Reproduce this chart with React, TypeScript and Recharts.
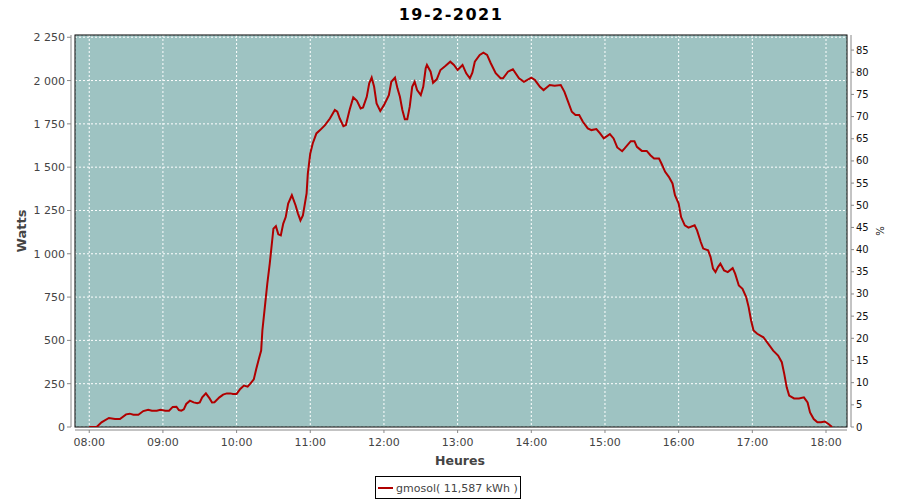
import React from "react";
import { LineChart, Line, XAxis, YAxis, CartesianGrid, Customized } from "recharts";

const TITLE = "19-2-2021";
const SERIES_NAME = "gmosol( 11,587 kWh )";
const X_LABEL = "Heures";
const Y_LABEL = "Watts";
const Y2_LABEL = "%";

// readings (HH:MM) and power in W
const TIMES = [
  "08:00", "08:06", "08:10", "08:16", "08:21", "08:25", "08:30", "08:33", "08:36", "08:40",
  "08:44", "08:48", "08:51", "08:55", "08:58", "09:02", "09:05", "09:08", "09:11", "09:13",
  "09:15", "09:17", "09:19", "09:22", "09:25", "09:28", "09:30", "09:32", "09:35", "09:38",
  "09:40", "09:42", "09:46", "09:49", "09:52", "09:55", "09:57", "10:00", "10:03", "10:06",
  "10:09", "10:11", "10:14", "10:16", "10:18", "10:20", "10:21", "10:23", "10:25", "10:27",
  "10:29", "10:30", "10:32", "10:34", "10:36", "10:38", "10:40", "10:42", "10:45", "10:48",
  "10:50", "10:52", "10:54", "10:57", "10:58", "11:00", "11:02", "11:05", "11:08", "11:12",
  "11:16", "11:20", "11:22", "11:24", "11:27", "11:29", "11:32", "11:35", "11:38", "11:41",
  "11:43", "11:46", "11:48", "11:50", "11:52", "11:54", "11:57", "12:00", "12:04", "12:06",
  "12:09", "12:11", "12:13", "12:15", "12:17", "12:19", "12:21", "12:23", "12:25", "12:27",
  "12:30", "12:32", "12:34", "12:35", "12:38", "12:40", "12:43", "12:46", "12:50", "12:54",
  "12:57", "13:00", "13:04", "13:07", "13:10", "13:12", "13:14", "13:18", "13:21", "13:24",
  "13:27", "13:31", "13:35", "13:37", "13:41", "13:45", "13:50", "13:54", "14:00", "14:03",
  "14:07", "14:10", "14:15", "14:19", "14:24", "14:27", "14:30", "14:33", "14:36", "14:39",
  "14:42", "14:46", "14:49", "14:53", "14:56", "14:59", "15:04", "15:07", "15:10", "15:14",
  "15:16", "15:21", "15:24", "15:26", "15:30", "15:34", "15:37", "15:40", "15:44", "15:46",
  "15:49", "15:52", "15:55", "15:57", "16:00", "16:02", "16:05", "16:08", "16:13", "16:15",
  "16:18", "16:20", "16:24", "16:26", "16:28", "16:30", "16:32", "16:34", "16:37", "16:40",
  "16:44", "16:46", "16:49", "16:52", "16:55", "16:57", "16:59", "17:01", "17:04", "17:09",
  "17:13", "17:17", "17:21", "17:24", "17:26", "17:28", "17:30", "17:34", "17:38", "17:42",
  "17:45", "17:47", "17:50", "17:53", "17:56", "17:59", "18:02", "18:05",
];

const WATTS = [
  0, 0, 27, 52, 46, 46, 73, 77, 71, 71,
  92, 100, 94, 94, 100, 94, 94, 116, 117, 98,
  94, 102, 133, 152, 142, 137, 142, 171, 194, 165,
  142, 143, 171, 187, 194, 194, 191, 191, 220, 239,
  233, 249, 275, 335, 390, 441, 557, 692, 827, 943,
  1078, 1145, 1159, 1112, 1106, 1174, 1212, 1290, 1338, 1280,
  1232, 1193, 1222, 1348, 1463, 1579, 1637, 1695, 1714, 1743,
  1781, 1830, 1820, 1781, 1737, 1743, 1830, 1903, 1883, 1839,
  1845, 1906, 1984, 2017, 1964, 1868, 1824, 1858, 1916, 1993,
  2017, 1955, 1906, 1830, 1776, 1776, 1849, 1964, 1993, 1945,
  1916, 1964, 2071, 2090, 2051, 1987, 2007, 2061, 2084, 2109,
  2090, 2061, 2090, 2042, 2013, 2045, 2109, 2148, 2161, 2148,
  2100, 2042, 2013, 2013, 2051, 2065, 2013, 1993, 2017, 2003,
  1964, 1945, 1974, 1970, 1974, 1935, 1877, 1820, 1801, 1801,
  1762, 1724, 1714, 1720, 1695, 1666, 1691, 1666, 1614, 1592,
  1608, 1650, 1650, 1617, 1594, 1594, 1569, 1550, 1550, 1521,
  1473, 1444, 1406, 1338, 1290, 1212, 1164, 1151, 1164, 1135,
  1068, 1030, 1020, 981, 914, 894, 923, 943, 904, 894,
  917, 885, 817, 798, 750, 692, 615, 557, 538, 518,
  480, 441, 412, 374, 307, 229, 181, 165, 165, 171,
  142, 84, 46, 27, 27, 32, 17, 0,
];

const HOUR_TICKS = ["08:00", "09:00", "10:00", "11:00", "12:00", "13:00", "14:00", "15:00", "16:00", "17:00", "18:00"];
const WATT_TICKS = [0, 250, 500, 750, 1000, 1250, 1500, 1750, 2000, 2250];
const PCT_TICKS = [0, 5, 10, 15, 20, 25, 30, 35, 40, 45, 50, 55, 60, 65, 70, 75, 80, 85];

// plot box
const PL = 75;
const PT = 35;
const PR = 847;
const PB = 427;

const toMin = (s: string) => {
  const [h, m] = s.split(":").map(Number);
  return h * 60 + m;
};
const fromMin = (v: number) => {
  const h = Math.floor(v / 60);
  const m = v % 60;
  return `${String(h).padStart(2, "0")}:${String(m).padStart(2, "0")}`;
};
const fmtWatts = (v: number) =>
  v >= 1000 ? `${Math.floor(v / 1000)} ${String(v % 1000).padStart(3, "0")}` : String(v);

const data = TIMES.map((t, i) => ({ t: toMin(t), w: WATTS[i] }));

const LeftTick = (props: any) => {
  const { y, payload } = props;
  return (
    <g>
      <line x1={PL - 8} x2={PL - 4} y1={y} y2={y} stroke="#888" />
      <text x={PL - 10} y={y} dy={4} textAnchor="end" fontSize={11} fill="#444" fontFamily="DejaVu Sans">
        {fmtWatts(payload.value)}
      </text>
    </g>
  );
};

const RightTick = (props: any) => {
  const { y, payload } = props;
  return (
    <g>
      <line x1={PR + 4} x2={PR + 7} y1={y} y2={y} stroke="#888" />
      <text x={PR + 9} y={y} dy={3.5} textAnchor="start" fontSize={10} fill="#111" fontFamily="DejaVu Sans">
        {payload.value}
      </text>
    </g>
  );
};

const BottomTick = (props: any) => {
  const { x, payload } = props;
  return (
    <g>
      <line x1={x} x2={x} y1={PB + 3} y2={PB + 6} stroke="#888" />
      <text x={x} y={PB + 19} textAnchor="middle" fontSize={11} fill="#444" fontFamily="DejaVu Sans">
        {fromMin(payload.value)}
      </text>
    </g>
  );
};

const Frame = () => (
  <g>
    <rect x={PL} y={PT} width={PR - PL} height={PB - PT} fill="none" stroke="#000" />
    <line x1={PL - 4} x2={PL - 4} y1={PT} y2={PB} stroke="#888" />
    <line x1={PR + 4} x2={PR + 4} y1={PT} y2={PB} stroke="#888" />
    <line x1={PL} x2={PR} y1={PB + 3} y2={PB + 3} stroke="#888" />
    <text x={451} y={20} textAnchor="middle" fontSize={16} fontWeight="bold" letterSpacing={1.5} fill="#000" fontFamily="DejaVu Sans">
      {TITLE}
    </text>
    <text
      x={21}
      y={231}
      transform="rotate(-90 21 231)"
      textAnchor="middle"
      dy={4.5}
      fontSize={13}
      fontWeight="bold"
      fill="#444"
      fontFamily="DejaVu Sans"
    >
      {Y_LABEL}
    </text>
    <text
      x={880}
      y={231}
      transform="rotate(-90 880 231)"
      textAnchor="middle"
      dy={3.5}
      fontSize={10}
      fill="#111"
      fontFamily="DejaVu Sans"
    >
      {Y2_LABEL}
    </text>
    <text x={460} y={465} textAnchor="middle" fontSize={12.5} fontWeight="bold" fill="#444" fontFamily="DejaVu Sans">
      {X_LABEL}
    </text>
    <rect x={375.5} y={476.5} width={145} height={22} fill="#fff" stroke="#000" />
    <line x1={378} x2={393} y1={488} y2={488} stroke="#b00000" strokeWidth={2} />
    <text x={396} y={492} fontSize={11} fill="#444" fontFamily="DejaVu Sans">
      {SERIES_NAME}
    </text>
  </g>
);

export default function App() {
  return (
    <div style={{ position: "absolute", left: 0, top: 0, width: 900, height: 500, background: "#fff" }}>
      <LineChart width={900} height={500} data={data} margin={{ top: PT, right: 0, bottom: 0, left: 0 }}>
        <CartesianGrid
          yAxisId="left"
          stroke="#fff"
          strokeDasharray="2 2"
          fill="#9ec3c2"
          fillOpacity={1}
        />
        <XAxis
          dataKey="t"
          type="number"
          domain={[468.4, 1097.1]}
          ticks={HOUR_TICKS.map(toMin)}
          interval={0}
          height={500 - PB}
          axisLine={false}
          tickLine={false}
          tick={<BottomTick />}
          allowDataOverflow
        />
        <YAxis
          yAxisId="left"
          type="number"
          domain={[0, 2263]}
          ticks={WATT_TICKS}
          interval={0}
          width={PL}
          axisLine={false}
          tickLine={false}
          tick={<LeftTick />}
          allowDataOverflow
        />
        <YAxis
          yAxisId="right"
          orientation="right"
          type="number"
          domain={[0, 88.4]}
          ticks={PCT_TICKS}
          interval={0}
          width={900 - PR}
          axisLine={false}
          tickLine={false}
          tick={<RightTick />}
          allowDataOverflow
        />
        <Line
          yAxisId="left"
          dataKey="w"
          type="linear"
          stroke="#b00000"
          strokeWidth={2}
          dot={false}
          isAnimationActive={false}
        />
        <Customized component={<Frame />} />
      </LineChart>
    </div>
  );
}
